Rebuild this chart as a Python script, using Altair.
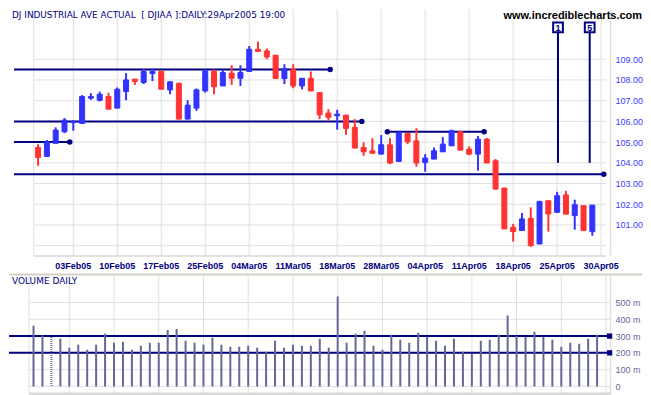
import altair as alt
import pandas as pd

# ---------------- data ----------------
day_idx = list(range(-4, 60))
opens = [104.74, 104.31, 104.94, 105.50, 105.94, 105.90, 107.12, 107.02, 107.20, 106.64,
         107.44, 108.04, 107.88, 108.31, 108.41, 107.52, 107.84, 106.11, 106.64, 107.47,
         108.41, 107.71, 108.33, 108.08, 108.41, 109.48, 109.40, 109.19, 108.07, 108.52,
         107.71, 108.08, 107.39, 106.40, 106.27, 106.30, 105.71, 104.74, 104.58, 104.42,
         104.87, 104.07, 105.42, 105.06, 104.02, 104.18, 104.53, 104.82, 105.50, 104.66,
         104.42, 105.14, 104.10, 102.78, 100.89, 100.73, 101.32, 100.08, 102.17, 101.61,
         102.45, 101.45, 101.93, 100.68]
highs = [104.90, 105.10, 105.71, 106.16, 106.06, 107.27, 107.36, 107.44, 107.39, 107.64,
         108.33, 108.04, 108.52, 108.55, 108.45, 107.94, 107.86, 107.02, 107.59, 108.52,
         108.50, 108.48, 108.71, 108.71, 109.64, 109.85, 109.52, 109.22, 108.76, 108.76,
         108.08, 108.41, 107.39, 106.59, 106.56, 106.32, 106.11, 104.99, 105.19, 105.34,
         105.19, 105.50, 105.45, 105.67, 104.42, 104.74, 105.24, 105.60, 105.55, 104.79,
         105.30, 105.20, 104.18, 102.80, 101.05, 101.58, 101.85, 102.14, 102.17, 102.60,
         102.65, 102.22, 101.93, 101.96]
lows = [103.86, 104.31, 104.94, 105.43, 105.55, 105.90, 107.04, 106.96, 106.59, 106.64,
        107.02, 107.76, 107.80, 107.95, 107.55, 107.31, 106.11, 106.11, 106.51, 107.39,
        107.31, 107.71, 107.76, 107.71, 108.41, 109.37, 109.00, 108.07, 107.80, 107.60,
        107.55, 107.47, 106.11, 106.03, 105.60, 105.35, 104.71, 104.34, 104.46, 104.42,
        103.94, 104.05, 104.90, 103.81, 103.57, 104.18, 104.53, 104.82, 104.61, 104.37,
        103.62, 103.99, 102.73, 100.81, 100.20, 100.73, 99.95, 100.08, 100.68, 101.61,
        101.52, 100.77, 100.73, 100.48]
closes = [104.26, 105.00, 105.58, 106.06, 106.00, 107.20, 107.20, 107.31, 106.59, 107.55,
          108.00, 107.93, 108.41, 108.41, 107.55, 107.91, 106.11, 106.78, 107.52, 108.44,
          107.67, 108.36, 108.08, 108.36, 109.48, 109.37, 109.11, 108.07, 108.55, 107.71,
          108.08, 107.47, 106.32, 106.19, 106.35, 105.66, 104.71, 104.53, 104.46, 104.87,
          103.99, 105.47, 105.01, 103.99, 104.23, 104.58, 104.90, 105.55, 104.61, 104.42,
          105.14, 103.99, 102.73, 100.81, 100.68, 101.29, 100.00, 102.14, 101.53, 102.41,
          101.52, 101.98, 100.73, 101.96]
volumes = [361, 304, 294, 284, 230, 248, 218, 248, 314, 260, 266, 218, 242, 260, 260, 337,
           343, 272, 260, 248, 290, 248, 236, 236, 242, 230, 206, 272, 230, 248, 242, 242,
           284, 230, 536,
           260, 314, 332, 242, 218, 308, 278, 260, 320, 296, 272, 242, 284, 206, 195, 272,
           278, 308, 423, 302, 296, 326, 296, 278, 236, 260, 254, 284, 308]

tick_idx = list(range(0, 61, 5))
tick_labels = ["03Feb05", "10Feb05", "17Feb05", "25Feb05", "04Mar05", "11Mar05", "18Mar05",
               "28Mar05", "04Apr05", "11Apr05", "18Apr05", "25Apr05", "30Apr05"]
grid_idx = [-4.5] + tick_idx
price_grid = [100, 101, 102, 103, 104, 105, 106, 107, 108, 109]
price_labels = [101, 102, 103, 104, 105, 106, 107, 108, 109]
vol_grid = [0, 100, 200, 300, 400, 500]

support_levels = [108.5, 106.0, 105.0, 103.45]
support_end = [29.2, 32.8, -0.4, 60.3]
range_level = [105.5]
range_start = [35.7]
range_end = [46.7]
vol_levels = [300, 200]
vol_line_end = [60.4, 60.4]
marker_text = ["1", "5"]
marker_idx = [55.1, 58.7]
marker_base = [104.0, 104.0]

title_text = "DJ INDUSTRIAL AVE ACTUAL \u00a0[ DJIAA ]:DAILY:29Apr2005 19:00"
site_text = "www.incrediblecharts.com"
vol_title = "VOLUME DAILY"

X_DOMAIN = [-6.74, 60.56]
P_DOMAIN = [99.506, 111.41]
V_DOMAIN = [-49.4, 659]
W, HP, HV = 603, 247, 119

NAVY = "#000080"
GRID = "#e0e0e0"
RED = "#ff3333"
BLUE = "#3333ff"
FONT = "Liberation Sans"
TFONT = "DejaVu Sans"

xs = alt.Scale(domain=X_DOMAIN, nice=False, zero=False)
ys = alt.Scale(domain=P_DOMAIN, nice=False, zero=False)
vs = alt.Scale(domain=V_DOMAIN, nice=False, zero=False)

P_AXIS = alt.Axis(orient="right", values=price_labels, format=".2f", grid=False,
                  ticks=False, domain=False, labelPadding=4, labelAlign="left",
                  labelBaseline="middle", labelColor="#3c3cff", labelFont=FONT,
                  labelFontSize=9, title=None)
V_AXIS = alt.Axis(orient="right", values=vol_grid, grid=False, ticks=False,
                  domain=False, labelPadding=4, labelAlign="left",
                  labelBaseline="middle", labelColor="#666699", labelFont=FONT,
                  labelFontSize=9, title=None,
                  labelExpr="datum.value == 0 ? '0' : datum.value + ' m'")


def X(field):
    return alt.X(field, scale=xs, axis=None)


def YP(field):
    return alt.Y(field, scale=ys, axis=P_AXIS)


def YV(field):
    return alt.Y(field, scale=vs, axis=V_AXIS)


ohlc = pd.DataFrame({"idx": day_idx, "open": opens, "high": highs, "low": lows,
                     "close": closes, "vol": volumes})
ohlc["dir"] = ["up" if c >= o else "down" for o, c in zip(opens, closes)]
dir_scale = alt.Scale(domain=["up", "down"], range=[BLUE, RED])
color_enc = alt.Color("dir:N", scale=dir_scale, legend=None)

# ---------------- price panel ----------------
pg = pd.DataFrame({"p": price_grid, "x0": grid_idx[0], "x1": X_DOMAIN[1]})
hgrid = alt.Chart(pg).mark_rule(color=GRID, strokeWidth=1).encode(
    y=YP("p:Q"), x=X("x0:Q"), x2="x1:Q")

gdf = pd.DataFrame({"gx": grid_idx})
vgrid = alt.Chart(gdf).mark_rule(color=GRID, strokeWidth=1).encode(x=X("gx:Q"))

borders_p = alt.Chart(pd.DataFrame({"a": [0]})).mark_rule(color=GRID, strokeWidth=1.5).encode(
    x=alt.value(602.5))
bottom_p = alt.Chart(pd.DataFrame({"x0": [grid_idx[0]], "x1": [X_DOMAIN[1]]})).mark_rule(
    color="#d8d8d8", strokeWidth=1.5).encode(x=X("x0:Q"), x2="x1:Q", y=alt.value(HP))

sup = pd.DataFrame({"lvl": support_levels, "x0": X_DOMAIN[0], "x1": support_end})
sup_lines = alt.Chart(sup).mark_rule(color=NAVY, strokeWidth=2).encode(
    x=X("x0:Q"), x2="x1:Q", y=YP("lvl:Q"))
sup_dots = alt.Chart(sup).mark_circle(color=NAVY, size=30, opacity=1).encode(
    x=X("x1:Q"), y=YP("lvl:Q"))

rng = pd.DataFrame({"lvl": range_level, "x0": range_start, "x1": range_end})
rng_line = alt.Chart(rng).mark_rule(color=NAVY, strokeWidth=2).encode(
    x=X("x0:Q"), x2="x1:Q", y=YP("lvl:Q"))
rng_pts = pd.DataFrame({"lvl": range_level * 2, "x": range_start + range_end})
rng_dots = alt.Chart(rng_pts).mark_circle(color=NAVY, size=30, opacity=1).encode(
    x=X("x:Q"), y=YP("lvl:Q"))

wicks = alt.Chart(ohlc).mark_rule(strokeWidth=2).encode(
    x=X("idx:Q"), y=YP("low:Q"), y2="high:Q", color=color_enc)
bodies = alt.Chart(ohlc).mark_bar(size=5, strokeWidth=1).encode(
    x=X("idx:Q"), y=YP("open:Q"), y2="close:Q", color=color_enc,
    stroke=alt.Stroke("dir:N", scale=dir_scale, legend=None))

mk = pd.DataFrame({"t": marker_text, "x": marker_idx, "base": marker_base})
mk_lines = alt.Chart(mk).mark_rule(color=NAVY, strokeWidth=2).encode(
    x=X("x:Q"), y=YP("base:Q"), y2=alt.value(22))
mk_box = alt.Chart(mk).mark_point(shape="square", size=95, filled=False, fill="white",
                                  fillOpacity=1, stroke=NAVY, strokeWidth=2, opacity=1).encode(
    x=X("x:Q"), y=alt.value(18))
mk_txt = alt.Chart(mk).mark_text(font=FONT, fontSize=9, fontWeight="bold", color=NAVY,
                                 baseline="middle", align="center").encode(
    x=X("x:Q"), y=alt.value(18.5), text="t:N")

xlab = pd.DataFrame({"i": tick_idx, "lab": tick_labels})
xlabels = alt.Chart(xlab).mark_text(font=FONT, fontSize=9, fontWeight="bold", color=NAVY,
                                    baseline="middle", align="center").encode(
    x=X("i:Q"), y=alt.value(HP + 10), text="lab:N")

ttl = alt.Chart(pd.DataFrame({"t": [title_text]})).mark_text(
    font=TFONT, fontSize=8.9, color=NAVY, align="left", baseline="middle").encode(
    x=alt.value(3), y=alt.value(6), text="t:N")
site = alt.Chart(pd.DataFrame({"t": [site_text]})).mark_text(
    font=FONT, fontSize=11, fontWeight="bold", color="black", align="right",
    baseline="middle").encode(x=alt.value(634), y=alt.value(6.5), text="t:N")

price = alt.layer(hgrid, vgrid, borders_p, bottom_p, sup_lines, rng_line, wicks, bodies,
                  sup_dots, rng_dots, mk_lines, mk_box, mk_txt, xlabels, ttl, site).properties(
    width=W, height=HP)

# ---------------- volume panel ----------------
vg = pd.DataFrame({"v": vol_grid, "x0": grid_idx[0], "x1": X_DOMAIN[1]})
vhgrid = alt.Chart(vg).mark_rule(color=GRID, strokeWidth=1).encode(
    y=YV("v:Q"), x=X("x0:Q"), x2="x1:Q")
vvgrid = alt.Chart(gdf).mark_rule(color=GRID, strokeWidth=1).encode(x=X("gx:Q"))
borders_v = alt.Chart(pd.DataFrame({"a": [0]})).mark_rule(color=GRID, strokeWidth=1.5).encode(
    x=alt.value(602.5))
bottom_v = alt.Chart(pd.DataFrame({"x0": [grid_idx[0]], "x1": [X_DOMAIN[1]]})).mark_rule(
    color="#d8d8d8", strokeWidth=2.5).encode(x=X("x0:Q"), x2="x1:Q", y=alt.value(HV - 1))
sep = alt.Chart(pd.DataFrame({"a": [0]})).mark_rule(color="#d4d0c8", strokeWidth=2).encode(
    x=alt.value(0), x2=alt.value(634), y=alt.value(-1.5))

vl = pd.DataFrame({"lvl": vol_levels, "x0": X_DOMAIN[0], "x1": vol_line_end})
vl_lines = alt.Chart(vl).mark_rule(color=NAVY, strokeWidth=2).encode(
    x=X("x0:Q"), x2="x1:Q", y=YV("lvl:Q"))
vl_dots = alt.Chart(vl).mark_square(color=NAVY, size=28, opacity=1).encode(
    x=X("x1:Q"), y=YV("lvl:Q"))

vbars = alt.Chart(ohlc).transform_calculate(zero="0").mark_rule(
    color="#666699", strokeWidth=2).encode(
    x=X("idx:Q"), y=YV("vol:Q"), y2="zero:Q",
    strokeDash=alt.condition(alt.datum.idx == -2, alt.value([1, 1]), alt.value([1, 0])))

vtitle = alt.Chart(pd.DataFrame({"t": [vol_title]})).mark_text(
    font=TFONT, fontSize=9, color=NAVY, align="left", baseline="middle").encode(
    x=alt.value(3), y=alt.value(5.5), text="t:N")

volume = alt.layer(vhgrid, vvgrid, borders_v, bottom_v, sep, vl_lines, vbars, vl_dots,
                   vtitle).properties(width=W, height=HV)

chart = alt.vconcat(price, volume, spacing=20, bounds="flush").properties(
    padding=0, background="white").configure_view(stroke=None)

chart.save("out.html", embed_options={"renderer": "svg", "actions": False})
